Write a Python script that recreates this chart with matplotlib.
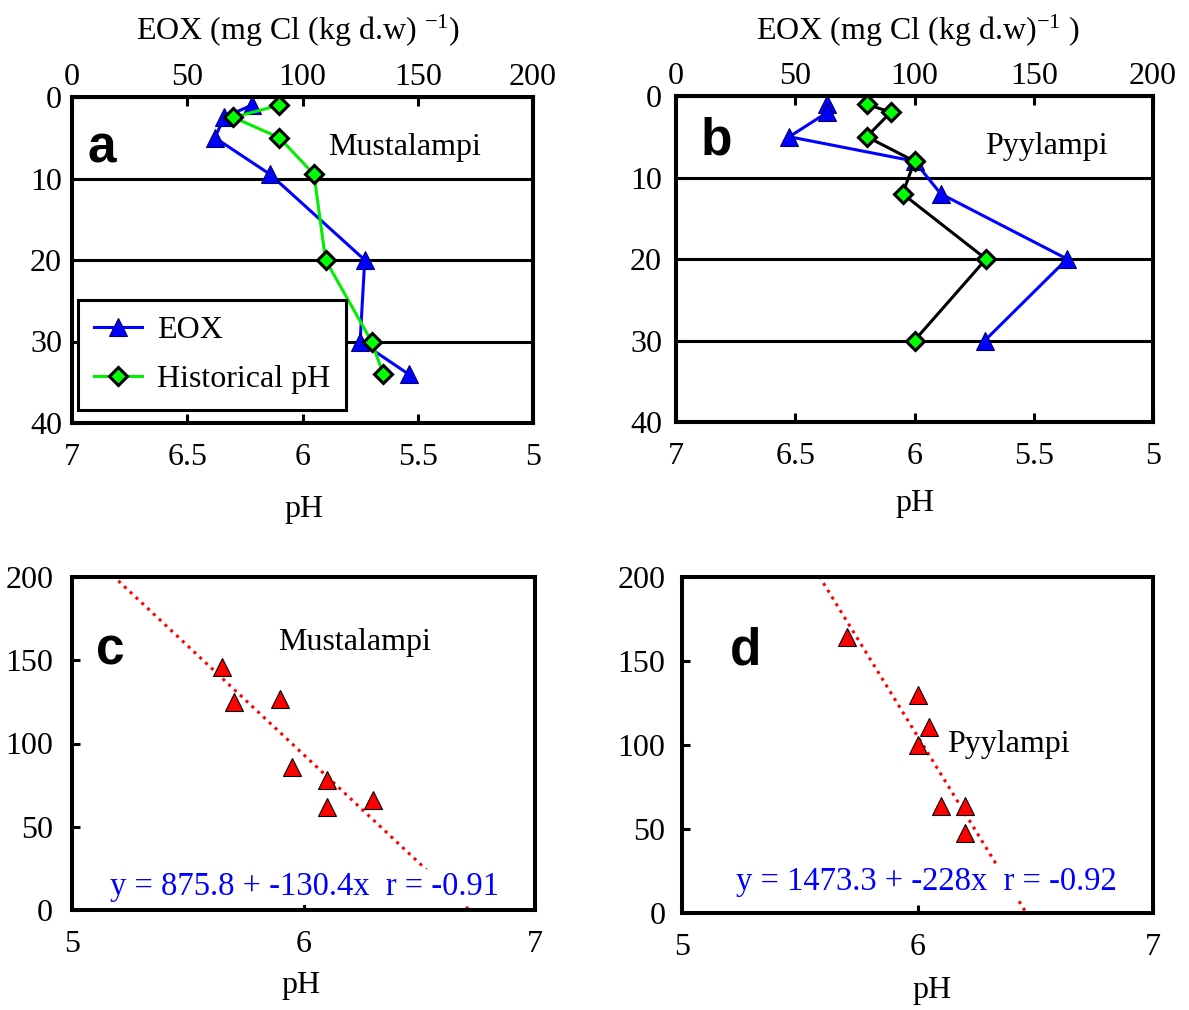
import numpy as np
import matplotlib
matplotlib.use("Agg")
import matplotlib.pyplot as plt

plt.rcParams['font.family'] = ['Liberation Serif', 'DejaVu Serif']
plt.rcParams['mathtext.fontset'] = 'custom'
plt.rcParams['mathtext.rm'] = 'Liberation Serif'
plt.rcParams['mathtext.it'] = 'Liberation Serif:italic'

# ---------------- data ----------------
# Mustalampi
must_depth = [1, 2.5, 5, 9.5, 20, 30, 34]
must_eox = [78, 66, 62, 86, 127, 125, 146]
must_ph = [6.1, 6.3, 6.1, 5.95, 5.9, 5.7, 5.65]
# Pyylampi
pyy_depth = [1, 2, 5, 8, 12, 20, 30]
pyy_eox = [63.5, 63.5, 47.5, 100, 111, 164, 129.5]
pyy_ph = [6.2, 6.1, 6.2, 6.0, 6.05, 5.7, 6.0]

# regressions (as printed): intercept, slope, r
must_fit = (875.8, -130.4, -0.91)
pyy_fit = (1473.3, -228.0, -0.92)

ph_ticks_top = [7, 6.5, 6, 5.5, 5]
ph_ticklabels_top = ['7', '6.5', '6', '5.5', '5']
eox_ticks = [0, 50, 100, 150, 200]
depth_ticks = [0, 10, 20, 30, 40]
ph_ticks_bot = [5, 6, 7]

W, H = 1189, 1010
fig = plt.figure(figsize=(W / 100, H / 100), dpi=100)

def rect(l, t, r, b):
    return [l / W, (H - b) / H, (r - l) / W, (b - t) / H]

TICKFS = 23
LABFS = 23
SPW = 2.9
LW = 2.2

def style_spines(ax):
    for s in ax.spines.values():
        s.set_linewidth(SPW)

def depth_panel(r, depth, eox, ph, phcolor, letter, lake, lake_pos, letter_pos, ylpad):
    ax = fig.add_axes(rect(*r))
    axp = ax.twiny()
    # EOX axis (top)
    ax.set_xlim(0, 200)
    ax.set_ylim(40, 0)
    ax.xaxis.set_ticks_position('top')
    ax.xaxis.set_label_position('top')
    ax.set_xticks(eox_ticks)
    ax.set_xticklabels([str(t) for t in eox_ticks])
    ax.set_yticks(depth_ticks)
    ax.set_yticklabels([str(t) for t in depth_ticks])
    ax.tick_params(axis='x', which='both', direction='in', length=6.5, width=LW,
                   labelsize=TICKFS, pad=3.6, top=True, bottom=False, labeltop=True, labelbottom=False)
    ax.tick_params(axis='y', direction='in', length=6.5, width=LW, labelsize=TICKFS, pad=ylpad)
    ax.grid(axis='y', color='black', lw=LW)
    ax.set_axisbelow(True)
    style_spines(ax)
    l1, = ax.plot(eox, depth, color='#0000ff', lw=LW, marker='^', ms=12.5,
                  mfc='#0000ff', mec='#000066', mew=0.8, label='EOX', zorder=3)
    # pH axis (bottom)
    axp.set_xlim(7, 5)
    axp.xaxis.set_ticks_position('bottom')
    axp.xaxis.set_label_position('bottom')
    axp.set_xticks(ph_ticks_top)
    axp.set_xticklabels(ph_ticklabels_top)
    axp.tick_params(axis='x', direction='in', length=6.5, width=LW, labelsize=TICKFS,
                    pad=14.4, top=False, bottom=True, labeltop=False, labelbottom=True)
    style_spines(axp)
    l2, = axp.plot(ph, depth, color=phcolor, lw=LW, marker='D', ms=9.5,
                   mfc='#00ff00', mec='black', mew=2.2, label='Historical pH', zorder=3)
    axp.text(letter_pos[0], letter_pos[1], letter, transform=axp.transAxes,
             family='Liberation Sans', weight='bold', fontsize=37, ha='left', va='baseline')
    axp.text(lake_pos[0], lake_pos[1], lake, transform=axp.transAxes,
             fontsize=23, ha='center', va='baseline')
    return ax, axp, l1, l2

ax_a, axp_a, la1, la2 = depth_panel((72, 97, 533, 423), must_depth, must_eox, must_ph, '#00ee00',
                                    'a', 'Mustalampi', (0.722, 0.822), (0.033, 0.80), 7.2)
leg = axp_a.legend(handles=[la1, la2], loc='lower left', bbox_to_anchor=(0.0137, 0.04),
                   borderaxespad=0, fontsize=23, frameon=True, fancybox=False,
                   framealpha=1, edgecolor='black', handlelength=1.5, labelspacing=0.6,
                   borderpad=0.5, handletextpad=0.45)
leg.get_frame().set_linewidth(LW)

ax_b, axp_b, lb1, lb2 = depth_panel((676, 96, 1153, 422), pyy_depth, pyy_eox, pyy_ph, 'black',
                                    'b', 'Pyylampi', (0.776, 0.822), (0.052, 0.822), 10)

fig.text(298 / W, 1 - 40 / H, r'EOX (mg Cl (kg d.w) $^{-1}$)', fontsize=LABFS, ha='center', va='baseline')
fig.text(918 / W, 1 - 40 / H, r'EOX (mg Cl (kg d.w)$^{-1}$ )', fontsize=LABFS, ha='center', va='baseline')
fig.text(304 / W, 1 - 517 / H, 'pH', fontsize=LABFS, ha='center', va='baseline')
fig.text(915 / W, 1 - 511 / H, 'pH', fontsize=LABFS, ha='center', va='baseline')

def scatter_panel(r, ph, eox, fit, letter, lake, lake_pos, letter_pos, eq_pos, ylpad):
    ax = fig.add_axes(rect(*r))
    ax.set_xlim(5, 7)
    ax.set_ylim(0, 200)
    ax.set_xticks(ph_ticks_bot)
    ax.set_xticklabels([str(t) for t in ph_ticks_bot])
    ax.set_yticks(eox_ticks)
    ax.set_yticklabels([str(t) for t in eox_ticks])
    ax.tick_params(axis='x', direction='in', length=6, width=LW, labelsize=TICKFS, pad=14.4)
    ax.tick_params(axis='y', direction='in', length=6, width=LW, labelsize=TICKFS, pad=ylpad)
    style_spines(ax)
    xs = np.array(ax.get_xlim())
    ax.plot(xs, fit[0] + fit[1] * xs, color='red', lw=2.2, linestyle=(0, (1, 1.6)), zorder=2)
    ax.plot(ph, eox, linestyle='none', marker='^', ms=13, mfc='red', mec='black', mew=0.8, zorder=4)
    ax.text(letter_pos[0], letter_pos[1], letter, transform=ax.transAxes,
            family='Liberation Sans', weight='bold', fontsize=37, ha='left', va='baseline')
    ax.text(lake_pos[0], lake_pos[1], lake, transform=ax.transAxes,
            fontsize=23, ha='center', va='baseline')
    ax.text(eq_pos[0], eq_pos[1],
            'y = %g + %g' % (fit[0], fit[1]) + 'x  r = %g' % fit[2],
            transform=ax.transAxes, fontsize=23.5, color='#0000ff', ha='center', va='baseline',
            bbox=dict(facecolor='white', edgecolor='none', pad=2), zorder=3)
    return ax

scatter_panel((72, 577, 535, 910), must_ph, must_eox, must_fit, 'c', 'Mustalampi',
              (0.61, 0.78), (0.052, 0.736), (0.503, 0.045), 13.5)
scatter_panel((682, 577, 1153, 913), pyy_ph, pyy_eox, pyy_fit, 'd', 'Pyylampi',
              (0.693, 0.48), (0.102, 0.741), (0.519, 0.068), 12)

fig.text(301 / W, 1 - 993 / H, 'pH', fontsize=LABFS, ha='center', va='baseline')
fig.text(932 / W, 1 - 998 / H, 'pH', fontsize=LABFS, ha='center', va='baseline')

fig.savefig('out.png', dpi=100)
